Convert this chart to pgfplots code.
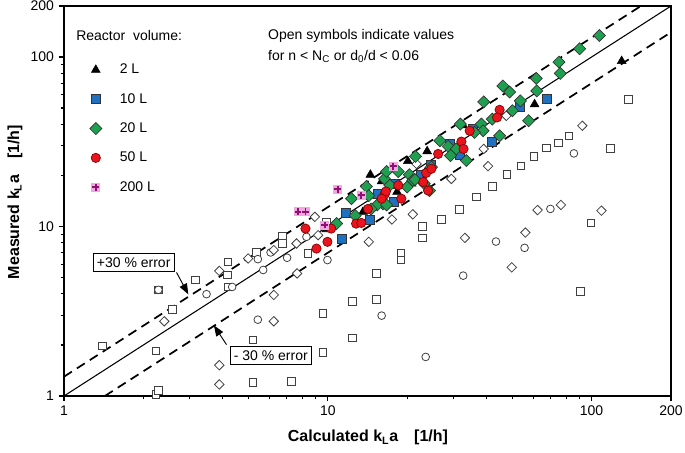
\documentclass[border=0pt]{standalone}
\usepackage{fontspec}
\setmainfont{Liberation Sans}
\usepackage{pgfplots}
\pgfplotsset{compat=1.18}
\usetikzlibrary{arrows.meta}
\definecolor{cblue}{HTML}{2070C0}
\definecolor{cgreen}{HTML}{1FA050}
\definecolor{cred}{HTML}{E8141E}
\definecolor{pinkbg}{HTML}{F2A6E4}
\definecolor{plusc}{HTML}{8E1070}
\definecolor{opengray}{HTML}{404040}
\pgfdeclareplotmark{pinkplus}{%
  \pgfpathrectangle{\pgfqpoint{-\pgfplotmarksize}{-\pgfplotmarksize}}{\pgfqpoint{2\pgfplotmarksize}{2\pgfplotmarksize}}%
  \pgfsetfillcolor{pinkbg}\pgfusepath{fill}%
  \pgfsetstrokecolor{plusc}\pgfsetlinewidth{1.4pt}%
  \pgfpathmoveto{\pgfqpoint{-0.75\pgfplotmarksize}{0pt}}\pgfpathlineto{\pgfqpoint{0.75\pgfplotmarksize}{0pt}}%
  \pgfpathmoveto{\pgfqpoint{0pt}{-0.75\pgfplotmarksize}}\pgfpathlineto{\pgfqpoint{0pt}{0.75\pgfplotmarksize}}%
  \pgfusepath{stroke}}

\pgfplotstableread{
x y
1.40 1.97
2.23 1.84
2.23 1.02
2.28 1.08
2.28 4.23
2.58 3.25
3.15 4.84
4.19 6.20
4.16 5.18
4.19 4.40
5.37 7.03
6.74 8.81
6.74 7.94
8.42 6.93
9.89 10.6
5.21 2.15
5.21 1.20
7.29 1.22
9.60 3.08
9.60 1.81
12.4 3.61
12.4 2.20
15.3 5.29
15.3 3.72
18.9 7.00
18.9 6.34
22.8 10.0
22.8 8.57
27.0 11.0
31.6 12.6
36.6 14.9
42.0 17.2
47.8 20.3
54.0 22.7
60.3 26.0
67.3 29.0
74.8 31.1
82.0 34.3
99.4 10.5
118 28.9
138 56.3
90.6 4.13
}\opensq
\pgfplotstableread{
x y
2.28 4.23
4.34 4.40
3.47 3.99
5.43 6.42
5.69 5.54
6.07 7.03
7.01 6.54
8.30 8.69
9.97 6.34
5.43 2.82
16.0 2.98
23.5 1.70
32.6 5.13
43.4 8.15
55.7 7.48
69.8 12.7
85.7 27.0
}\opencirc
\pgfplotstableread{
x y
2.40 2.76
3.88 5.47
4.99 6.48
6.24 7.26
7.61 7.94
7.65 5.29
8.93 11.4
9.19 8.89
6.24 3.95
6.24 2.76
3.88 1.52
3.88 1.17
14.3 8.12
17.5 11.0
21.0 11.8
33.1 8.57
49.8 5.74
56.1 9.21
62.4 12.5
76.5 13.4
109 12.4
92.2 39.3
40.5 22.7
39.0 28.7
29.4 19.1
47.5 45.0
21.7 23.4
}\opendia
\pgfplotstableread{
x y
130 94.6
60.8 52.6
23.8 27.8
20.1 24.3
14.5 20.2
16.0 18.5
23.4 20.9
9.89 9.64
13.6 12.2
18.3 16.0
20.8 17.9
32.6 39.5
}\twoL
\pgfplotstableread{
x y
67.7 56.3
53.4 51.0
35.5 37.9
42.0 31.7
31.6 26.4
22.6 20.2
17.9 17.9
15.5 15.6
11.7 12.1
11.3 8.42
14.4 10.9
17.8 13.9
24.6 23.1
29.0 30.7
}\tenL
\pgfplotstableread{
x y
107 134
90.1 112
75.2 93.3
76.1 80.0
61.7 74.8
62.0 63.1
46.1 67.5
48.9 62.2
39.0 54.3
53.7 55.1
50.1 48.2
57.7 42.1
42.0 43.0
38.2 40.2
38.8 36.7
44.8 34.3
26.6 32.1
28.6 29.7
30.7 28.7
33.5 24.5
20.4 20.2
24.7 22.4
23.2 17.9
14.0 17.2
12.3 14.6
18.5 21.1
24.3 16.3
16.2 13.6
16.4 19.1
31.8 40.2
36.0 35.9
29.2 26.2
21.0 18.7
16.7 21.1
14.3 15.2
15.4 13.4
16.7 13.4
17.2 17.5
20.0 17.1
21.4 18.9
12.7 11.6
10.8 10.4
21.5 25.9
14.6 12.7
}\twentyL
\pgfplotstableread{
x y
44.8 48.8
43.8 44.0
34.5 36.7
32.1 31.7
32.7 28.7
26.2 26.8
23.6 20.7
18.5 17.5
16.4 15.4
8.23 9.72
9.06 7.41
9.97 8.12
12.8 10.4
13.4 10.5
19.0 14.6
16.6 16.1
24.0 16.3
14.2 12.7
10.3 9.72
23.0 18.3
24.7 21.9
16.0 14.6
}\fiftyL
\pgfplotstableread{
x y
7.72 12.2
8.23 12.2
10.9 16.6
9.74 10.2
13.4 15.3
17.7 22.7
}\twohundredL

\begin{document}
\begin{tikzpicture}
\begin{axis}[
  xmode=log, ymode=log,
  scale only axis, width=455.25pt, height=292.5pt,
  xmin=1, xmax=200, ymin=1, ymax=200,
  xtick={1,10,100,200}, xticklabels={1,10,100,200},
  ytick={1,10,100,200}, yticklabels={1,10,100,200},
  minor xtick={2,3,4,5,6,7,8,9,20,30,40,50,60,70,80,90},
  minor ytick={2,3,4,5,6,7,8,9,20,30,40,50,60,70,80,90},
  tick align=outside, tick pos=left,
  major tick length=4pt, minor tick length=2.5pt,
  axis line style={line width=1.1pt},
  every tick/.style={black, line width=0.8pt},
  tick label style={font=\fontsize{10.5}{12}\selectfont},
  xlabel={\textbf{Calculated k\textsubscript{L}a\hspace{1em}[1/h]}},
  ylabel={\textbf{Measured k\textsubscript{L}a\hspace{1em}[1/h]}},
  every axis x label/.style={at={(rel axis cs:0.5008,-0.107)}, anchor=center, font=\fontsize{12}{14}\selectfont},
  every axis y label/.style={at={(rel axis cs:-0.0807,0.497)}, rotate=90, anchor=center, font=\fontsize{12}{14}\selectfont},
  legend style={draw=none, fill=none, at={(rel axis cs:0.042,0.854)}, anchor=north west,
    inner sep=0pt, row sep=12pt, font=\fontsize{10.5}{12}\selectfont,
    nodes={inner sep=0pt, text height=8pt, text depth=2pt},
    /tikz/every odd column/.append style={column sep=13.5pt}},
  legend cell align=left,
  clip=false,
]
\coordinate (sw) at (rel axis cs:0,0);
\coordinate (ne) at (rel axis cs:1,1);
% reference lines
\addplot[black, line width=0.8pt, forget plot] coordinates {(1,1) (200,200)};
\addplot[black, line width=1.3pt, dash pattern=on 7pt off 4.5pt, forget plot] coordinates {(1,1.3) (153.8,200)};
\addplot[black, line width=1.3pt, dash pattern=on 7pt off 4.5pt, forget plot] coordinates {(1.4286,1) (200,140)};
% open symbols
\addplot[only marks, mark=square*, mark size=2.8pt, mark options={fill=white, draw=opengray, line width=0.6pt}, forget plot] table {\opensq};
\addplot[only marks, mark=*, mark size=2.9pt, mark options={fill=white, draw=opengray, line width=0.6pt}, forget plot] table {\opencirc};
\addplot[only marks, mark=square*, mark size=2.5pt, mark options={rotate=45, fill=white, draw=opengray, line width=0.6pt}, forget plot] table {\opendia};
% filled symbols
\addplot[only marks, mark=triangle*, mark size=3.8pt, mark options={fill=black, draw=black}] table {\twoL};
\addlegendentry{2 L}
\addplot[only marks, mark=square*, mark size=3.4pt, mark options={fill=cblue, draw=black!80, line width=0.5pt}] table {\tenL};
\addlegendentry{10 L}
\addplot[only marks, mark=square*, mark size=3.2pt, mark options={rotate=45, fill=cgreen, draw=black!80, line width=0.5pt}] table {\twentyL};
\addlegendentry{20 L}
\addplot[only marks, mark=*, mark size=3.5pt, mark options={fill=cred, draw=red!50!black, line width=0.5pt}] table {\fiftyL};
\addlegendentry{50 L}
\addplot[only marks, mark=pinkplus, mark size=3.4pt] table {\twohundredL};
\addlegendentry{200 L}
% annotations
\node[anchor=west, inner sep=0pt, font=\fontsize{10.5}{12}\selectfont] at (rel axis cs:0.0198,0.9235) {Reactor\ \ volume:};
\node[anchor=west, inner sep=0pt, font=\fontsize{10.5}{12}\selectfont] at (rel axis cs:0.336,0.9235) {Open symbols indicate values};
\node[anchor=west, inner sep=0pt, font=\fontsize{10.5}{12}\selectfont] at (rel axis cs:0.336,0.870) {for n < N\textsubscript{C} or d\textsubscript{0}/d < 0.06};
\draw[-{Triangle[length=8pt,width=6pt]}, line width=0.7pt] (axis cs:2.67,5.36) -- (axis cs:2.96,3.98);
\draw[-{Triangle[length=8pt,width=6pt]}, line width=0.7pt] (axis cs:4.13,2.01) -- (axis cs:3.70,2.61);
\node[draw, fill=white, line width=0.5pt, inner sep=3pt, font=\fontsize{10.5}{12}\selectfont] at (rel axis cs:0.1148,0.3418) {+30 \% error};
\node[draw, fill=white, line width=0.5pt, inner sep=3pt, font=\fontsize{10.5}{12}\selectfont] at (rel axis cs:0.3407,0.1038) {- 30 \% error};
\end{axis}
\pgfresetboundingbox
\path ([shift={(-48pt,-42.75pt)}]sw) rectangle ([shift={(10.5pt,4.5pt)}]ne);
\end{tikzpicture}
\end{document}
